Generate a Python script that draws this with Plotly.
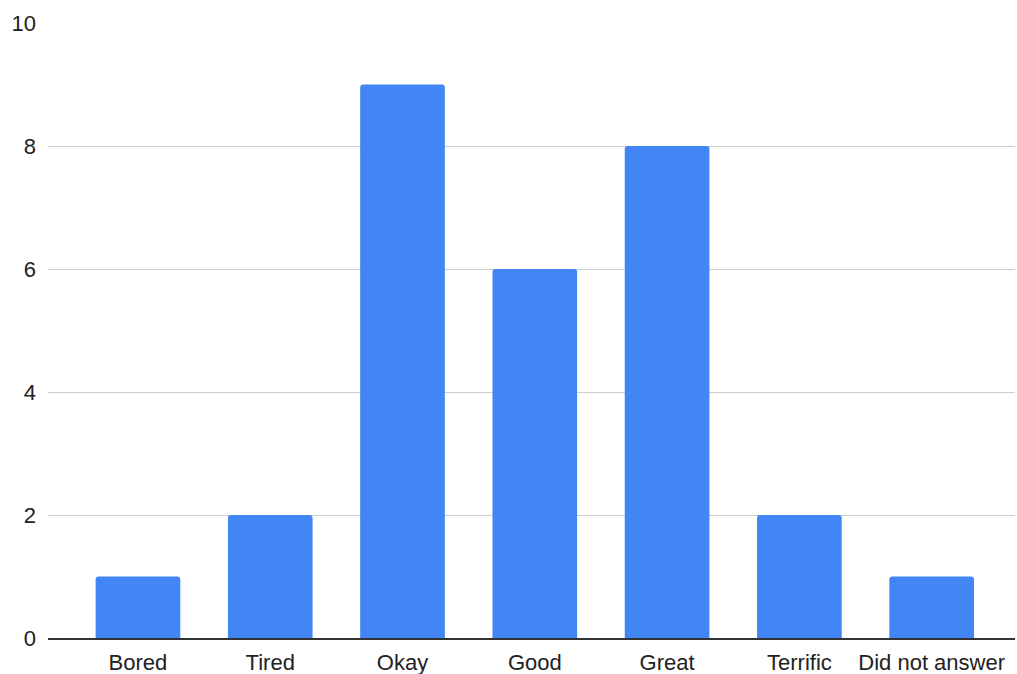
import plotly.graph_objects as go

categories = ["Bored", "Tired", "Okay", "Good", "Great", "Terrific", "Did not answer"]
counts = [1, 2, 9, 6, 8, 2, 1]
y_ticks = [0, 2, 4, 6, 8, 10]

fig = go.Figure(
    go.Bar(
        x=list(range(len(categories))),
        y=counts,
        width=0.64,
        marker=dict(color="#4285F4", line=dict(width=0)),
        hoverinfo="x+y",
    )
)

fig.update_layout(
    width=1017,
    height=674,
    margin=dict(l=48, r=2, t=23, b=36),
    paper_bgcolor="white",
    plot_bgcolor="white",
    barcornerradius=3,
    showlegend=False,
    font=dict(family="Liberation Sans, Arial, sans-serif", size=22, color="#222222"),
)

fig.update_xaxes(
    tickmode="array",
    tickvals=list(range(len(categories))),
    ticktext=categories,
    range=[-0.68, 6.63],
    showgrid=False,
    zeroline=False,
    showline=True,
    linecolor="#333333",
    linewidth=1.5,
    ticks="",
    ticklabelstandoff=4,
    automargin=False,
)

fig.update_yaxes(
    range=[0, 10],
    tickmode="array",
    tickvals=y_ticks,
    showgrid=True,
    gridcolor="#cccccc",
    gridwidth=1,
    zeroline=False,
    showline=False,
    ticks="",
    ticklabelstandoff=11,
    automargin=False,
)

fig.write_html("out.html")
